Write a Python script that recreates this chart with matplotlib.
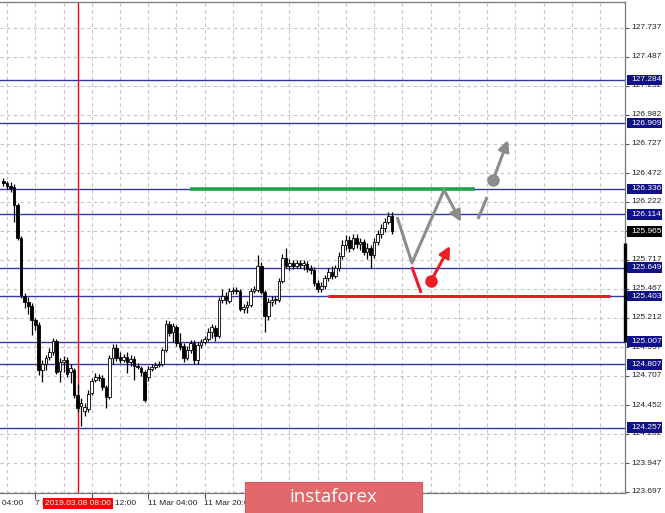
import matplotlib
matplotlib.use("Agg")
import matplotlib.pyplot as plt
from matplotlib.patches import Rectangle

# ---------------- data ----------------
opens = [126.405, 126.388, 126.362, 126.353, 126.196, 125.909, 125.404, 125.353, 125.318, 125.196,
         125.152, 124.761, 124.813, 124.874, 124.918, 125.013, 124.752, 124.831, 124.848, 124.744,
         124.761, 124.544, 124.448, 124.404, 124.422, 124.561, 124.674, 124.700, 124.692, 124.613,
         124.526, 124.865, 124.952, 124.874, 124.848, 124.874, 124.831, 124.857, 124.796, 124.779,
         124.744, 124.700, 124.770, 124.787, 124.805, 124.813, 124.935, 125.161, 125.092, 125.135,
         124.996, 124.970, 124.865, 124.935, 124.996, 124.848, 124.978, 125.004, 125.031, 125.092,
         125.126, 125.057, 125.370, 125.405, 125.361, 125.448, 125.457, 125.448, 125.292, 125.309,
         125.326, 125.448, 125.457, 125.666, 125.440, 125.231, 125.353, 125.370, 125.370, 125.535,
         125.735, 125.666, 125.692, 125.666, 125.692, 125.674, 125.683, 125.648, 125.631, 125.518,
         125.466, 125.492, 125.561, 125.613, 125.579, 125.648, 125.753, 125.848, 125.892, 125.822,
         125.909, 125.857, 125.875, 125.787, 125.822, 125.761, 125.875, 125.944, 125.996, 126.048,
         126.101]
highs = [126.431, 126.405, 126.396, 126.379, 126.214, 125.927, 125.431, 125.396, 125.344, 125.213,
         125.179, 124.848, 124.891, 124.952, 125.039, 125.031, 124.865, 124.883, 124.874, 124.813,
         124.779, 124.639, 124.518, 124.474, 124.587, 124.692, 124.735, 124.726, 124.718, 124.631,
         124.891, 124.987, 124.987, 124.918, 124.900, 124.918, 124.891, 124.883, 124.822, 124.796,
         124.761, 124.796, 124.813, 124.831, 124.839, 124.952, 125.196, 125.187, 125.170, 125.152,
         125.083, 124.996, 124.970, 125.022, 125.022, 125.004, 125.031, 125.057, 125.126, 125.161,
         125.152, 125.396, 125.466, 125.440, 125.474, 125.483, 125.483, 125.466, 125.335, 125.361,
         125.474, 125.492, 125.761, 125.700, 125.457, 125.387, 125.405, 125.405, 125.561, 125.770,
         125.822, 125.727, 125.718, 125.718, 125.718, 125.718, 125.709, 125.674, 125.657, 125.544,
         125.527, 125.587, 125.648, 125.666, 125.674, 125.787, 125.892, 125.935, 125.927, 125.944,
         125.944, 125.909, 125.901, 125.866, 125.848, 125.909, 125.979, 126.031, 126.083, 126.135,
         126.135]
lows = [126.362, 126.336, 126.310, 126.049, 125.892, 125.387, 125.300, 125.248, 125.066, 125.109,
        124.718, 124.657, 124.761, 124.848, 124.891, 124.726, 124.657, 124.744, 124.700, 124.648,
        124.518, 124.396, 124.274, 124.361, 124.396, 124.544, 124.657, 124.665, 124.587, 124.430,
        124.509, 124.813, 124.839, 124.822, 124.831, 124.735, 124.796, 124.674, 124.770, 124.709,
        124.483, 124.665, 124.752, 124.770, 124.787, 124.796, 124.918, 125.057, 125.004, 124.970,
        124.935, 124.831, 124.848, 124.909, 124.813, 124.813, 124.952, 124.987, 125.013, 125.039,
        125.013, 125.039, 125.344, 125.335, 125.344, 125.422, 125.422, 125.274, 125.257, 125.257,
        125.309, 125.431, 125.440, 125.422, 125.092, 125.196, 125.318, 125.335, 125.353, 125.518,
        125.648, 125.631, 125.640, 125.648, 125.648, 125.631, 125.613, 125.596, 125.492, 125.440,
        125.440, 125.466, 125.535, 125.553, 125.561, 125.622, 125.727, 125.805, 125.787, 125.805,
        125.822, 125.805, 125.761, 125.727, 125.648, 125.735, 125.848, 125.909, 125.961, 126.031,
        125.944]
closes = [126.388, 126.362, 126.344, 126.196, 125.909, 125.413, 125.353, 125.318, 125.196, 125.152,
          124.761, 124.813, 124.865, 124.918, 125.013, 124.744, 124.831, 124.848, 124.726, 124.779,
          124.544, 124.431, 124.474, 124.439, 124.552, 124.665, 124.700, 124.692, 124.613, 124.526,
          124.865, 124.952, 124.865, 124.848, 124.874, 124.831, 124.857, 124.796, 124.787, 124.744,
          124.500, 124.770, 124.787, 124.805, 124.813, 124.935, 125.161, 125.083, 125.144, 124.996,
          124.961, 124.865, 124.935, 124.996, 124.848, 124.978, 125.004, 125.031, 125.092, 125.135,
          125.057, 125.370, 125.405, 125.370, 125.448, 125.457, 125.448, 125.292, 125.309, 125.326,
          125.448, 125.466, 125.666, 125.440, 125.231, 125.353, 125.370, 125.379, 125.535, 125.735,
          125.666, 125.692, 125.666, 125.692, 125.674, 125.692, 125.640, 125.631, 125.518, 125.466,
          125.492, 125.561, 125.613, 125.579, 125.648, 125.753, 125.848, 125.892, 125.822, 125.909,
          125.857, 125.875, 125.787, 125.822, 125.761, 125.875, 125.944, 125.996, 126.048, 126.101,
          125.965]

level_values = [127.284, 126.909, 126.336, 126.114, 125.649, 125.403, 125.007, 124.807, 124.257]
price_ticks = [127.737, 127.487, 127.232, 126.982, 126.727, 126.472, 126.222, 125.967, 125.717,
               125.467, 125.212, 124.957, 124.707, 124.452, 124.202, 123.947, 123.697]
time_tick_bars = [-7, 9, 25, 41, 57]
time_tick_labels = ["7 Mar 04:00", "7 Mar 20:00", "8 Mar 12:00", "11 Mar 04:00", "11 Mar 20:00"]
grid_bars = list(range(1, 176, 8))
marker_bar = 21
marker_label = "2019.03.08 08:00"
current_price = 125.965

green_level = 126.336
green_span = [52.8, 133.6]
red_level = 125.403
red_span = [91.9, 171.8]

# forecast scenario sketch (bar index, price)
gray_path_x = [111.5, 115.7, 124.8]
gray_path_y = [126.091, 125.691, 126.326]
gray_arrow_tip = (129.6, 126.048)
gray_dash_x = [134.4, 137.0]
gray_dash_y = [126.074, 126.266]
gray_dot = (138.7, 126.414)
gray_up_tip = (142.9, 126.762)
red_leg_x = [115.7, 118.3]
red_leg_y = [125.656, 125.430]
red_dot = (121.1, 125.534)
red_up_tip = (126.5, 125.839)

# ---------------- figure ----------------
W, H = 665, 513
fig = plt.figure(figsize=(W / 100, H / 100), dpi=100)
fig.patch.set_facecolor("white")
ax = fig.add_axes([0, 20 / H, 625 / W, 491 / H])
ax.set_facecolor("white")

FONT = "Liberation Sans"
GRID = "#c4c4c4"

# spines / ticks (set before limits so the ticks do not widen the view)
for s in ["top", "right", "bottom"]:
    ax.spines[s].set_color("#777777")
    ax.spines[s].set_linewidth(0.9)
ax.spines["left"].set_visible(False)
ax.yaxis.tick_right()
ax.set_yticks(price_ticks)
ax.set_yticklabels([])
ax.set_xticks(time_tick_bars)
ax.set_xticklabels([])
ax.tick_params(axis="y", length=3, width=0.8, color="#555555", direction="out")
ax.tick_params(axis="x", length=4, width=0.8, color="#555555", direction="out")

XLIM = (-0.99, 176.05)
YLIM = (123.688, 127.963)
ax.set_xlim(*XLIM)
ax.set_ylim(*YLIM)
ax.set_autoscale_on(False)

# grid
for gb in grid_bars:
    ax.axvline(gb, color=GRID, lw=0.8, ls=(0, (3, 3)), zorder=0)
for pt in price_ticks:
    ax.axhline(pt, color=GRID, lw=0.8, ls=(0, (3, 3)), zorder=0)

# level lines
for lv in level_values:
    ax.axhline(lv, color="#3535aa", lw=1.0, zorder=1)

# marker vertical line
ax.axvline(marker_bar, color="#ff0000", lw=1.0, zorder=1.5)

# candles
w = 0.74
for i, (o, h, l, c) in enumerate(zip(opens, highs, lows, closes)):
    ax.plot([i, i], [l, h], color="black", lw=0.9, zorder=3, solid_capstyle="butt")
    bottom = min(o, c)
    height = max(abs(c - o), 0.004)
    face = "white" if c >= o else "black"
    ax.add_patch(Rectangle((i - w / 2, bottom), w, height, facecolor=face,
                           edgecolor="black", lw=0.6, zorder=4))

# green and red horizontal segments
ax.plot(green_span, [green_level, green_level], color="#1fa64a", lw=2.6, zorder=5,
        solid_capstyle="butt")
ax.plot(red_span, [red_level, red_level], color="#ee1c25", lw=2.2, zorder=5,
        solid_capstyle="butt")

# forecast arrows
GRAY = "#8c8c8c"
RED = "#ee1c25"
ax.plot(gray_path_x, gray_path_y, color=GRAY, lw=2.2, zorder=6, solid_capstyle="butt")
ax.annotate("", xy=gray_arrow_tip, xytext=(gray_path_x[-1], gray_path_y[-1]),
            arrowprops=dict(arrowstyle="-|>", color=GRAY, lw=2.2, mutation_scale=16,
                            shrinkA=0, shrinkB=0), zorder=6)
ax.plot(gray_dash_x, gray_dash_y, color=GRAY, lw=2.2, zorder=6, solid_capstyle="butt")
ax.plot([gray_dot[0]], [gray_dot[1]], "o", color=GRAY, ms=8, zorder=6)
ax.annotate("", xy=gray_up_tip, xytext=gray_dot,
            arrowprops=dict(arrowstyle="-|>", color=GRAY, lw=2.2, mutation_scale=16,
                            shrinkA=0, shrinkB=0), zorder=6)
ax.plot(red_leg_x, red_leg_y, color=RED, lw=2.2, zorder=6, solid_capstyle="butt")
ax.plot([red_dot[0]], [red_dot[1]], "o", color=RED, ms=8, zorder=6)
ax.annotate("", xy=red_up_tip, xytext=red_dot,
            arrowprops=dict(arrowstyle="-|>", color=RED, lw=2.2, mutation_scale=16,
                            shrinkA=0, shrinkB=0), zorder=6)

ytr = ax.get_yaxis_transform()
xtr = ax.get_xaxis_transform()

# thick bar on right scale
ax.plot([1.0, 1.0], [125.003, 125.865], transform=ytr, color="black", lw=2.4,
        clip_on=False, zorder=7, solid_capstyle="butt")

# right price labels
for pt in price_ticks:
    ax.text(1.0096, pt, f"{pt:.3f}", transform=ytr, fontsize=6, family=FONT,
            color="#222222", ha="left", va="center", clip_on=False, zorder=8)

box_h = 0.092
for lv in level_values:
    ax.add_patch(Rectangle((1.0035, lv - box_h / 2), 0.0555, box_h, transform=ytr,
                           facecolor="#101088", edgecolor="none", clip_on=False, zorder=9))
    ax.text(1.0096, lv, f"{lv:.3f}", transform=ytr, fontsize=6, family=FONT,
            color="white", ha="left", va="center", clip_on=False, zorder=10)
ax.add_patch(Rectangle((1.0035, current_price - box_h / 2), 0.0555, box_h, transform=ytr,
                       facecolor="black", edgecolor="none", clip_on=False, zorder=9))
ax.text(1.0096, current_price, f"{current_price:.3f}", transform=ytr, fontsize=6,
        family=FONT, color="white", ha="left", va="center", clip_on=False, zorder=10)

# bottom time labels
for tb, tl in zip(time_tick_bars, time_tick_labels):
    ax.text(tb - 0.15, -0.021, tl, transform=xtr, fontsize=6, family=FONT,
            color="#222222", ha="left", va="center", clip_on=False, zorder=8)
ax.text(marker_bar, -0.021, marker_label, transform=xtr, fontsize=6, family=FONT,
        color="white", ha="center", va="center", clip_on=False, zorder=10,
        bbox=dict(boxstyle="square,pad=0.25", facecolor="#ff0000", edgecolor="none"))

# watermark logo
fig.patches.append(Rectangle((245 / W, 0), 177 / W, 31 / H, transform=fig.transFigure,
                             facecolor="#e2686c", edgecolor="#d45a5e", lw=0.8, zorder=20))
fig.text(333 / W, 15.5 / H, "instaforex", color="white", fontsize=13.5, family="Open Sans",
         ha="center", va="center", zorder=21)

fig.savefig("out.png", dpi=100, facecolor="white")
